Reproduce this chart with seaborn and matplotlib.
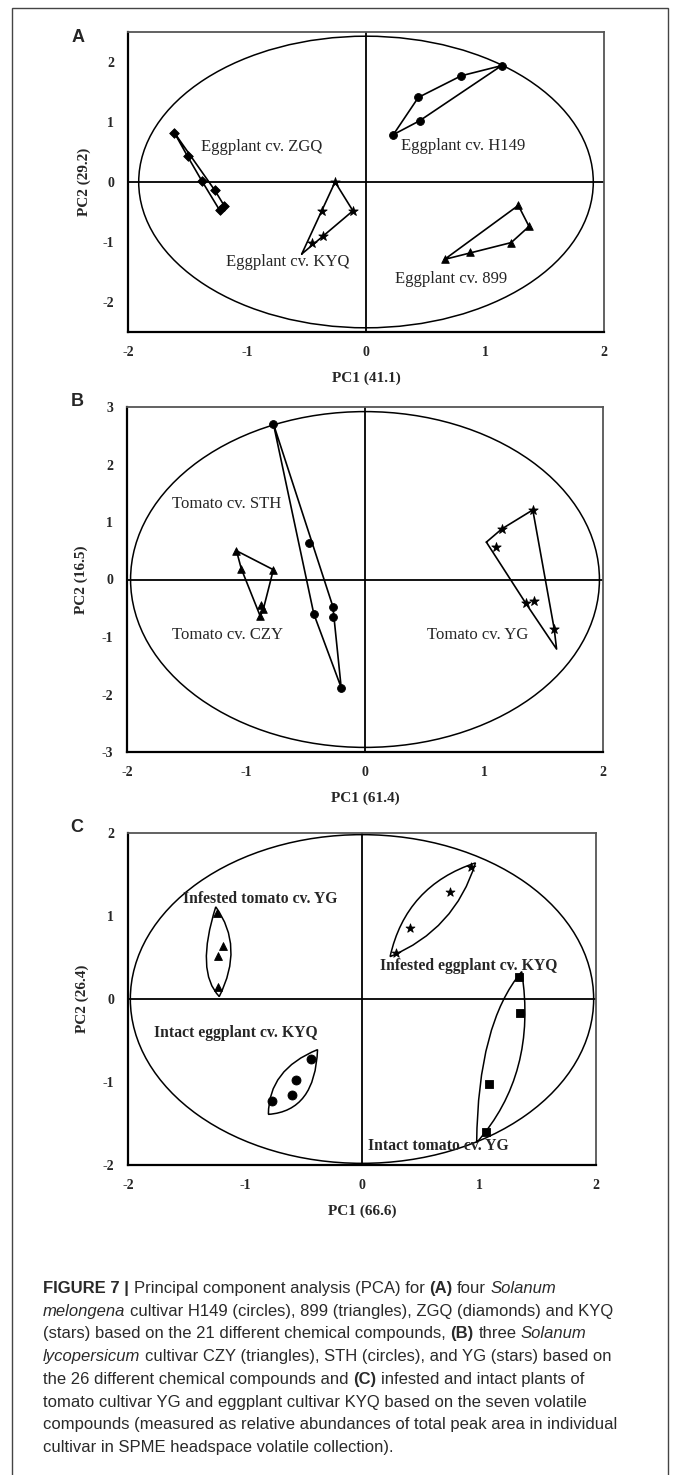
import numpy as np
import pandas as pd
import matplotlib
matplotlib.use("Agg")
import matplotlib.pyplot as plt
import seaborn as sns
from matplotlib.patches import Ellipse, PathPatch, Rectangle
from matplotlib.path import Path

# ---------------- data ----------------
# (A) eggplant cultivars
a_h149_x = [1.14, 0.80, 0.44, 0.45, 0.23]
a_h149_y = [1.94, 1.77, 1.41, 1.02, 0.79]
a_899_x = [1.28, 1.37, 1.22, 0.87, 0.66]
a_899_y = [-0.39, -0.74, -1.01, -1.17, -1.29]
a_zgq_x = [-1.61, -1.50, -1.38, -1.27, -1.23, -1.19]
a_zgq_y = [0.82, 0.43, 0.02, -0.14, -0.47, -0.40]
a_kyq_x = [-0.26, -0.11, -0.37, -0.36, -0.45]
a_kyq_y = [0.00, -0.48, -0.48, -0.90, -1.02]
a_kyq_corner_x = [-0.54]
a_kyq_corner_y = [-1.20]
a_ellipse = [1.91, 2.43]

# (B) tomato cultivars
b_czy_x = [-1.08, -1.04, -0.77, -0.875, -0.855, -0.88]
b_czy_y = [0.50, 0.19, 0.17, -0.45, -0.52, -0.64]
b_sth_x = [-0.77, -0.47, -0.43, -0.27, -0.27, -0.20]
b_sth_y = [2.71, 0.64, -0.60, -0.47, -0.66, -1.88]
b_yg_x = [1.41, 1.15, 1.10, 1.35, 1.42, 1.59]
b_yg_y = [1.21, 0.88, 0.56, -0.41, -0.38, -0.86]
b_yg_corner_x = [1.02, 1.61]
b_yg_corner_y = [0.65, -1.21]
b_ellipse = [1.97, 2.92]

# (C) infested / intact plants
c_inf_tom_x = [-1.24, -1.19, -1.23, -1.23]
c_inf_tom_y = [1.04, 0.64, 0.52, 0.15]
c_inf_egg_x = [0.93, 0.75, 0.41, 0.29]
c_inf_egg_y = [1.59, 1.29, 0.86, 0.56]
c_int_egg_x = [-0.44, -0.56, -0.60, -0.77]
c_int_egg_y = [-0.72, -0.98, -1.16, -1.23]
c_int_tom_x = [1.34, 1.35, 1.085, 1.06]
c_int_tom_y = [0.26, -0.17, -1.02, -1.60]
c_ellipse = [1.98, 1.98]
# lens outlines: two tips and one control point for each side
c_inf_tom_tips = [(-1.22, 0.03), (-1.25, 1.11)]
c_inf_tom_ctrl = [(-1.425, 0.33), (-1.005, 0.63)]
c_inf_egg_tips = [(0.24, 0.51), (0.97, 1.64)]
c_inf_egg_ctrl = [(0.375, 1.365), (0.795, 0.835)]
c_int_egg_tips = [(-0.80, -1.39), (-0.38, -0.61)]
c_int_egg_ctrl = [(-0.80, -0.85), (-0.40, -1.35)]
c_int_tom_tips = [(0.98, -1.73), (1.365, 0.33)]
c_int_tom_ctrl = [(0.99, -0.30), (1.50, -0.90)]

caption_lines = [
    [("FIGURE 7 |", "b"), ("Principal component analysis (PCA) for", "n"), ("(A)", "b"),
     ("four", "n"), ("Solanum", "i")],
    [("melongena", "i"), ("cultivar H149 (circles), 899 (triangles), ZGQ (diamonds) and KYQ", "n")],
    [("(stars) based on the 21 different chemical compounds,", "n"), ("(B)", "b"),
     ("three", "n"), ("Solanum", "i")],
    [("lycopersicum", "i"), ("cultivar CZY (triangles), STH (circles), and YG (stars) based on", "n")],
    [("the 26 different chemical compounds and", "n"), ("(C)", "b"),
     ("infested and intact plants of", "n")],
    [("tomato cultivar YG and eggplant cultivar KYQ based on the seven volatile", "n")],
    [("compounds (measured as relative abundances of total peak area in individual", "n")],
    [("cultivar in SPME headspace volatile collection).", "n")],
]

# ---------------- helpers ----------------
W, H = 675, 1475
SERIF = "Liberation Serif"
SANS = "Liberation Sans"


def convex_hull(xs, ys):
    pts = sorted(set(zip(xs, ys)))

    def cross(o, a, b):
        return (a[0] - o[0]) * (b[1] - o[1]) - (a[1] - o[1]) * (b[0] - o[0])

    lower, upper = [], []
    for p in pts:
        while len(lower) >= 2 and cross(lower[-2], lower[-1], p) <= 0:
            lower.pop()
        lower.append(p)
    for p in reversed(pts):
        while len(upper) >= 2 and cross(upper[-2], upper[-1], p) <= 0:
            upper.pop()
        upper.append(p)
    h = lower[:-1] + upper[:-1]
    h.append(h[0])
    return np.array(h)


def draw_points(ax, xs, ys, marker, s):
    df = pd.DataFrame({"pc1": xs, "pc2": ys})
    sns.scatterplot(data=df, x="pc1", y="pc2", marker=marker, s=s, color="black",
                    edgecolor="black", linewidth=0.6, legend=False, ax=ax, zorder=4)


def draw_group(ax, xs, ys, marker, s, corner_x=(), corner_y=()):
    draw_points(ax, xs, ys, marker, s)
    h = convex_hull(list(xs) + list(corner_x), list(ys) + list(corner_y))
    ax.plot(h[:, 0], h[:, 1], color="black", lw=1.2, zorder=3)


def draw_lens(ax, tips, ctrl):
    verts = [tips[0], ctrl[0], tips[1], ctrl[1], tips[0]]
    codes = [Path.MOVETO, Path.CURVE3, Path.CURVE3, Path.CURVE3, Path.CURVE3]
    ax.add_patch(PathPatch(Path(verts, codes), fill=False, ec="black", lw=1.1, zorder=3))


def style_axes(ax, ylim, yticks, xlabel, ylabel, ell, ylpad, xlpad):
    ax.set_xlim(-2, 2)
    ax.set_ylim(*ylim)
    ax.set_xticks([-2, -1, 0, 1, 2])
    ax.set_yticks(yticks)
    ax.set_xticklabels(["-2", "-1", "0", "1", "2"])
    ax.set_yticklabels([str(t) for t in yticks])
    ax.axhline(0, color="black", lw=1.3, zorder=2)
    ax.axvline(0, color="black", lw=1.3, zorder=2)
    ax.add_patch(Ellipse((0, 0), 2 * ell[0], 2 * ell[1], fill=False, ec="black",
                         lw=1.1, zorder=2))
    ax.tick_params(direction="out", length=4, width=1.2, pad=6, labelsize=10)
    for lab in ax.get_xticklabels() + ax.get_yticklabels():
        lab.set_fontfamily(SERIF)
        lab.set_fontweight("bold")
    ax.set_xlabel(xlabel, fontsize=11, fontweight="bold", family=SERIF, labelpad=xlpad)
    ax.set_ylabel(ylabel, fontsize=11, fontweight="bold", family=SERIF, labelpad=ylpad)
    for side in ["left", "bottom"]:
        ax.spines[side].set_linewidth(1.6)
        ax.spines[side].set_color("black")
    for side in ["top", "right"]:
        ax.spines[side].set_linewidth(1.3)
        ax.spines[side].set_color("#555555")
    ax.grid(False)


def rect(left, top, right, bottom):
    return [left / W, 1 - bottom / H, (right - left) / W, (bottom - top) / H]


# ---------------- figure ----------------
sns.set_style("white")
fig = plt.figure(figsize=(W / 100, H / 100), dpi=100)

# panel A
axA = fig.add_axes(rect(128, 32, 604, 332))
draw_group(axA, a_h149_x, a_h149_y, "o", 32)
draw_group(axA, a_899_x, a_899_y, "^", 30)
draw_group(axA, a_zgq_x, a_zgq_y, "D", 24)
draw_group(axA, a_kyq_x, a_kyq_y, "*", 50, a_kyq_corner_x, a_kyq_corner_y)
style_axes(axA, (-2.5, 2.5), [-2, -1, 0, 1, 2], "PC1 (41.1)", "PC2 (29.2)", a_ellipse, 8, 9)
txt = dict(fontsize=12, family=SERIF, va="center", ha="left", zorder=5)
axA.text(-1.39, 0.58, "Eggplant cv. ZGQ", **txt)
axA.text(0.29, 0.60, "Eggplant cv. H149", **txt)
axA.text(-1.18, -1.33, "Eggplant cv. KYQ", **txt)
axA.text(0.24, -1.61, "Eggplant cv. 899", **txt)

# panel B
axB = fig.add_axes(rect(127, 407, 603, 752))
draw_group(axB, b_czy_x, b_czy_y, "^", 30)
draw_group(axB, b_sth_x, b_sth_y, "o", 32)
draw_group(axB, b_yg_x, b_yg_y, "*", 50, b_yg_corner_x, b_yg_corner_y)
style_axes(axB, (-3, 3), [-3, -2, -1, 0, 1, 2, 3], "PC1 (61.4)", "PC2 (16.5)", b_ellipse, 10, 9)
axB.text(-1.62, 1.32, "Tomato cv. STH", **txt)
axB.text(-1.62, -0.96, "Tomato cv. CZY", **txt)
axB.text(0.52, -0.97, "Tomato cv. YG", **txt)

# panel C
axC = fig.add_axes(rect(128, 833, 596, 1165))
draw_points(axC, c_inf_tom_x, c_inf_tom_y, "^", 32)
draw_points(axC, c_inf_egg_x, c_inf_egg_y, "*", 45)
draw_points(axC, c_int_egg_x, c_int_egg_y, "o", 42)
draw_points(axC, c_int_tom_x, c_int_tom_y, "s", 32)
draw_lens(axC, c_inf_tom_tips, c_inf_tom_ctrl)
draw_lens(axC, c_inf_egg_tips, c_inf_egg_ctrl)
draw_lens(axC, c_int_egg_tips, c_int_egg_ctrl)
draw_lens(axC, c_int_tom_tips, c_int_tom_ctrl)
style_axes(axC, (-2, 2), [-2, -1, 0, 1, 2], "PC1 (66.6)", "PC2 (26.4)", c_ellipse, 10, 9)
btxt = dict(fontsize=11.3, family=SERIF, fontweight="bold", va="center", ha="left", zorder=5)
axC.text(-1.53, 1.20, "Infested tomato cv. YG", **btxt)
axC.text(0.15, 0.40, "Infested eggplant cv. KYQ", **btxt)
axC.text(-1.775, -0.41, "Intact eggplant cv. KYQ", **btxt)
axC.text(0.05, -1.77, "Intact tomato cv. YG", **btxt)

# panel letters
for letter, (px, py) in zip("ABC", [(78, 38), (77, 402), (77, 828)]):
    fig.text(px / W, 1 - py / H, letter, fontsize=13, fontweight="bold", family=SANS,
             ha="center", va="center")

# outer frame
fig.add_artist(Rectangle((12 / W, -0.01), (668 - 12) / W, 1 - 8 / H + 0.01,
                         transform=fig.transFigure, fill=False, ec="#444444", lw=1.0))

# caption, built segment by segment so bold / italic parts stay real text
fs = 12.0
renderer = fig.canvas.get_renderer()
space = 0.278 * fs * 100 / 72
for i, line in enumerate(caption_lines):
    x = 43
    y = 1293 + 22.7 * i
    for seg, st in line:
        t = fig.text(x / W, 1 - y / H, seg, fontsize=fs, family=SANS, color="#2a2a2a",
                     fontweight="bold" if st == "b" else "normal",
                     style="italic" if st == "i" else "normal", ha="left", va="baseline")
        x += t.get_window_extent(renderer).width + space

fig.savefig("out.png", dpi=100)
